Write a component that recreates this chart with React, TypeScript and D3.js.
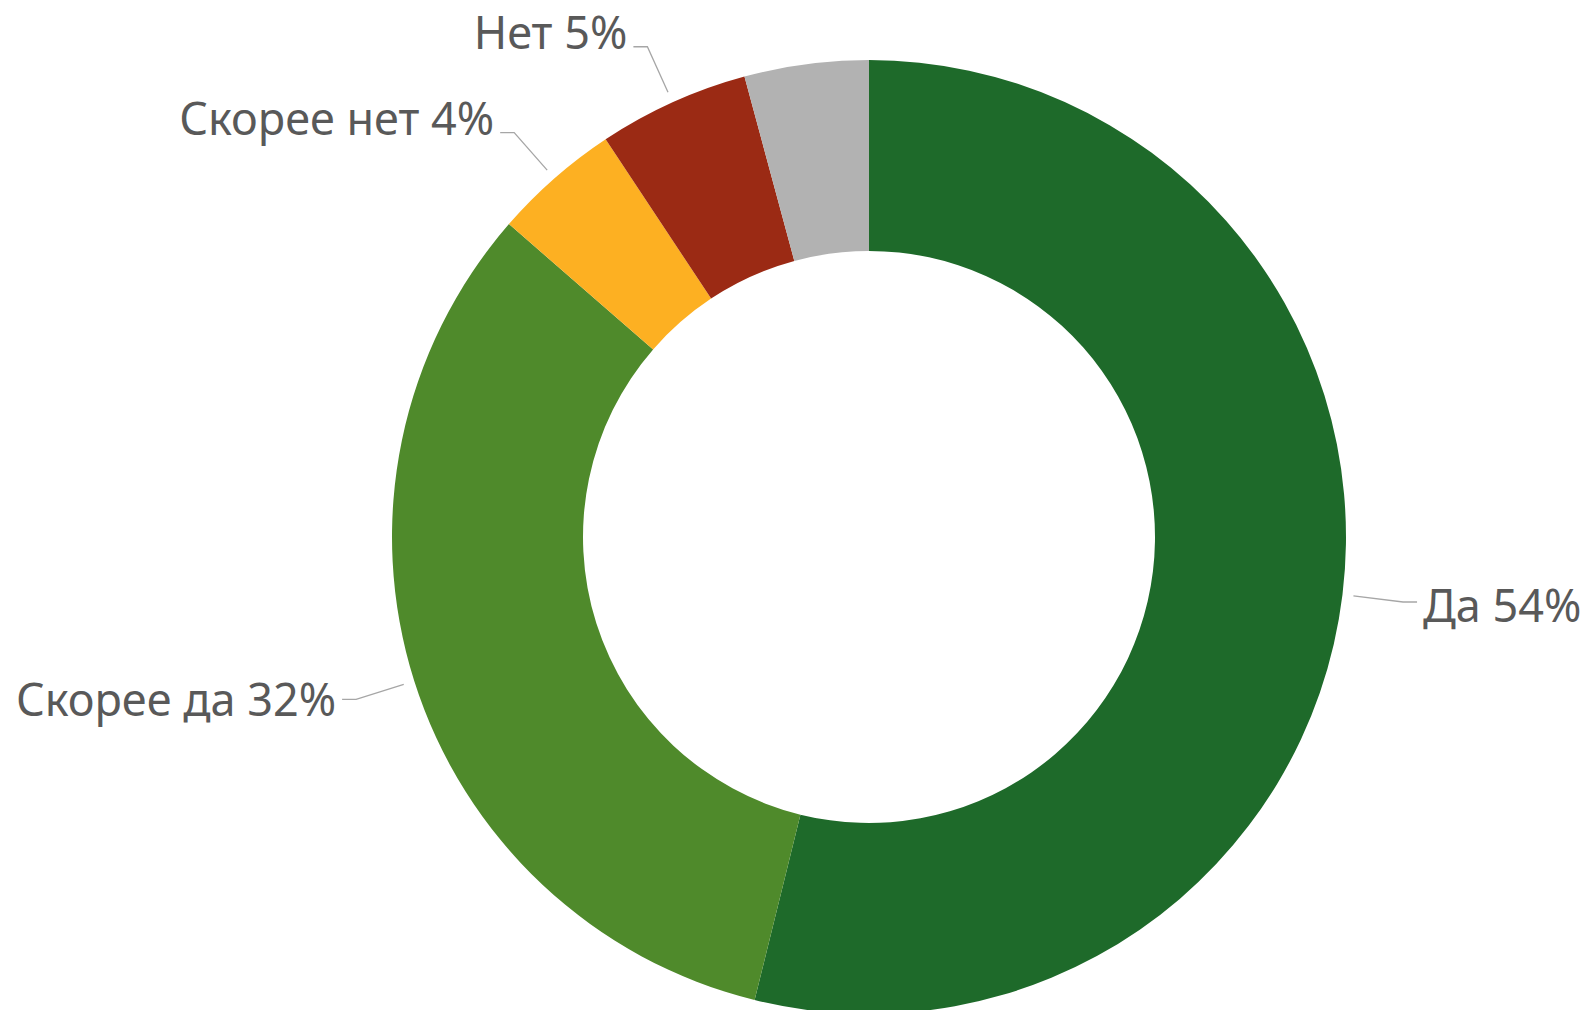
import React, { useEffect } from "react";
import * as d3 from "d3";

const categories = ["Да", "Скорее да", "Скорее нет", "Нет", "Затрудняюсь ответить"];
const values = [53.8, 32.5, 4.3, 5.1, 4.2];
const labelPercents = [54, 32, 4, 5, null];
const colors = ["#1e6a2a", "#4f8a2b", "#fdb022", "#9b2a14", "#b2b2b2"];

const W = 1583;
const H = 1010;
const CX = 869;
const CY = 537;
const R_OUT = 477;
const R_IN = 286;

export default function App() {
  useEffect(() => {
    document.body.style.margin = "0";
    document.body.style.overflow = "hidden";
  }, []);

  const data = categories.map((c, i) => ({ name: c, value: values[i], pct: labelPercents[i], color: colors[i] }));
  const pie = d3.pie<any>().sort(null).value((d) => d.value).startAngle(0).endAngle(2 * Math.PI);
  const arcs = pie(data);
  const arc = d3.arc<any>().innerRadius(R_IN).outerRadius(R_OUT);

  const pt = (a: number, r: number) => [CX + r * Math.sin(a), CY - r * Math.cos(a)];

  return (
    <svg width={W} height={H} style={{ display: "block", background: "#fff" }}>
      <g transform={`translate(${CX},${CY})`}>
        {arcs.map((a, i) => (
          <path key={i} d={arc(a) as string} fill={a.data.color} />
        ))}
      </g>
      {arcs.map((a, i) => {
        if (a.data.pct == null) return null;
        const mid = (a.startAngle + a.endAngle) / 2;
        const s = pt(mid, R_OUT + 11);
        const e = pt(mid, R_OUT + 61);
        const right = Math.sin(mid) > 0;
        const dir = right ? 1 : -1;
        const h = [e[0] + dir * 14, e[1]];
        const tx = h[0] + dir * 6;
        const upper = Math.cos(mid) > 0.5;
        const ty = e[1] + (upper ? 2 : right ? 20 : 17);
        return (
          <g key={i}>
            <polyline
              points={`${s[0]},${s[1]} ${e[0]},${e[1]} ${h[0]},${h[1]}`}
              fill="none"
              stroke="#a6a6a6"
              strokeWidth={1.3}
            />
            <text
              x={tx}
              y={ty}
              textAnchor={right ? "start" : "end"}
              fontFamily="'Noto Sans', 'Open Sans', sans-serif"
              fontSize={45}
              fill="#595959"
            >
              {`${a.data.name} ${a.data.pct}%`}
            </text>
          </g>
        );
      })}
    </svg>
  );
}
